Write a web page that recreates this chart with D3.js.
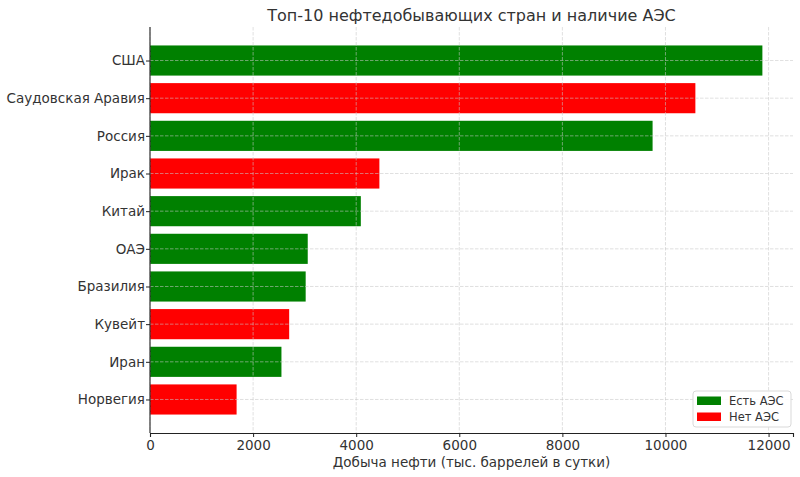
<!DOCTYPE html>
<html>
<head>
<meta charset="utf-8">
<script src="https://cdn.jsdelivr.net/npm/d3@7"></script>
<style>
  body { margin: 0; background: #fff; }
  text { font-family: "DejaVu Sans", sans-serif; fill: #333; }
</style>
</head>
<body>
<div id="chart"></div>
<script>
// Country names, oil output (thousand barrels/day) and whether they have nuclear plants
const countries = ["США", "Саудовская Аравия", "Россия", "Ирак", "Китай", "ОАЭ", "Бразилия", "Кувейт", "Иран", "Норвегия"];
const production = [11880, 10580, 9750, 4450, 4090, 3060, 3020, 2700, 2550, 1680];
const hasNPP = [true, false, true, false, true, true, true, false, true, false];
const legendLabels = ["Есть АЭС", "Нет АЭС"];
const xTicks = [0, 2000, 4000, 6000, 8000, 10000, 12000];

const data = countries.map((c, i) => ({country: c, value: production[i], npp: hasNPP[i]}));

// Layout
const W = 800, H = 477;
const margin = {top: 27, right: 7, bottom: 44, left: 150};
const width = W - margin.left - margin.right;
const height = H - margin.top - margin.bottom;

const svg = d3.select("#chart").append("svg")
    .attr("width", W)
    .attr("height", H);

const g = svg.append("g")
    .attr("transform", `translate(${margin.left},${margin.top})`);

// Scales: x gets 5% headroom like matplotlib, y uses bar index
const x = d3.scaleLinear()
    .domain([0, d3.max(production) * 1.05])
    .range([0, width]);

const n = countries.length;
const y = d3.scaleLinear()
    .domain([-0.4 - 0.49, n - 1 + 0.4 + 0.49])
    .range([0, height]);
const barH = y(0.8) - y(0);

const color = d => d ? "#008000" : "#ff0000";

// Bars
g.selectAll(".bar")
    .data(data)
    .enter()
    .append("rect")
    .attr("class", "bar")
    .attr("x", 0)
    .attr("y", (d, i) => y(i) - barH / 2)
    .attr("width", d => x(d.value))
    .attr("height", barH)
    .attr("fill", d => color(d.npp));

// Grid drawn over the bars
const grid = g.append("g").attr("class", "grid");
grid.selectAll(".vx")
    .data(xTicks)
    .enter()
    .append("line")
    .attr("x1", d => x(d)).attr("x2", d => x(d))
    .attr("y1", 0).attr("y2", height)
    .attr("stroke", "#c8c8c8")
    .attr("stroke-opacity", 0.7)
    .attr("stroke-width", 0.8)
    .attr("stroke-dasharray", "3.5,1.5");
grid.selectAll(".hy")
    .data(countries)
    .enter()
    .append("line")
    .attr("x1", 0).attr("x2", width)
    .attr("y1", (d, i) => y(i)).attr("y2", (d, i) => y(i))
    .attr("stroke", "#c8c8c8")
    .attr("stroke-opacity", 0.7)
    .attr("stroke-width", 0.8)
    .attr("stroke-dasharray", "3.5,1.5");

// X axis
const xAxis = g.append("g")
    .attr("transform", `translate(0,${height})`)
    .call(d3.axisBottom(x).tickValues(xTicks).tickFormat(d3.format("d")).tickSize(4).tickPadding(3));
xAxis.select(".domain").attr("stroke", "#222").attr("stroke-width", 1.1);
xAxis.selectAll(".tick line").attr("stroke", "#222");
xAxis.selectAll("text").style("font-size", "13.5px").attr("fill", "#333");

// Y axis
const yAxis = g.append("g")
    .call(d3.axisLeft(y).tickValues(d3.range(n)).tickFormat(i => countries[i]).tickSize(4).tickPadding(1));
yAxis.select(".domain").attr("d", `M0,0V${height}`).attr("stroke", "#222").attr("stroke-width", 1.1);
yAxis.selectAll(".tick line").attr("stroke", "#222");
yAxis.selectAll("text").style("font-size", "13.5px").attr("fill", "#333");

// Title
svg.append("text")
    .attr("x", margin.left + width / 2)
    .attr("y", 21)
    .attr("text-anchor", "middle")
    .style("font-size", "16px")
    .text("Топ-10 нефтедобывающих стран и наличие АЭС");

// X axis label
svg.append("text")
    .attr("x", margin.left + width / 2)
    .attr("y", 467)
    .attr("text-anchor", "middle")
    .style("font-size", "13.5px")
    .text("Добыча нефти (тыс. баррелей в сутки)");

// Legend in the lower right corner
const legend = g.append("g")
    .attr("transform", `translate(${width - 100},${height - 42})`);
legend.append("rect")
    .attr("width", 98)
    .attr("height", 36)
    .attr("rx", 3)
    .attr("fill", "#fff")
    .attr("fill-opacity", 0.85)
    .attr("stroke", "#d9d9d9");
legendLabels.forEach((label, i) => {
    legend.append("rect")
        .attr("x", 4)
        .attr("y", 5.5 + i * 16)
        .attr("width", 24)
        .attr("height", 8.5)
        .attr("fill", i === 0 ? color(true) : color(false));
    legend.append("text")
        .attr("x", 36)
        .attr("y", 14 + i * 16)
        .style("font-size", "11.5px")
        .text(label);
});
</script>
</body>
</html>
